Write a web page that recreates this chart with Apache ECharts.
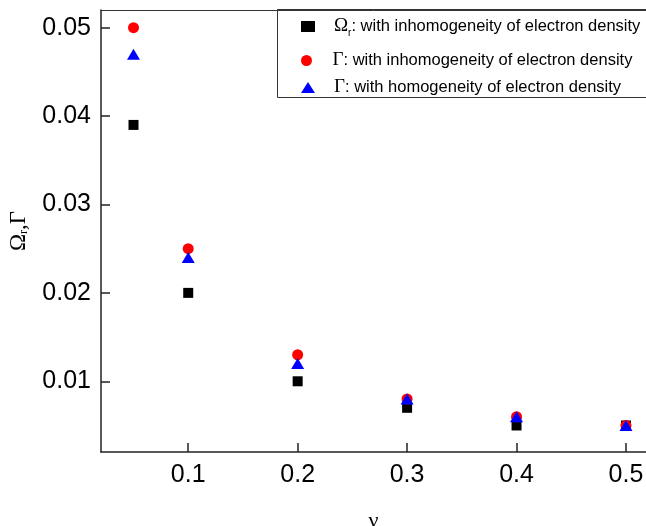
<!DOCTYPE html>
<html><head><meta charset="utf-8">
<script src="https://cdn.jsdelivr.net/npm/echarts@6/dist/echarts.min.js"></script>
<style>html,body{margin:0;padding:0;background:#fff}#c{width:646px;height:526px}</style>
</head><body><div id="c"></div>
<script>
const nu = [0.05, 0.1, 0.2, 0.3, 0.4, 0.5];
const omegaInhomo = [0.039, 0.020, 0.010, 0.007, 0.005, 0.005];
const gammaInhomo = [0.050, 0.025, 0.013, 0.008, 0.006, 0.005];
const gammaHomo = [0.047, 0.024, 0.012, 0.008, 0.006, 0.005];
const xTicks = [0.1, 0.2, 0.3, 0.4, 0.5];
const yTicks = [0.01, 0.02, 0.03, 0.04, 0.05];
const names = ['omega_in', 'gamma_in', 'gamma_ho'];
const legendText = {
  omega_in: '{sp| }{g|Ω}{s|r}{t|: with inhomogeneity of electron density}',
  gamma_in: '{sp| }{g|Γ}{t|: with inhomogeneity of electron density}',
  gamma_ho: '{sp| }{g|Γ}{t|: with homogeneity of electron density}'
};
const legendTops = [17, 51, 78];
const pairs = a => nu.map((x, i) => [x, a[i]]);

const legendRich = {
  sp: {width: 14, fontSize: 10},
  g: {fontFamily: 'Liberation Serif', fontSize: 19, color: '#000'},
  s: {fontFamily: 'Liberation Sans', fontSize: 10, color: '#000', padding: [14, 0, 0, 0]},
  t: {fontFamily: 'Liberation Sans', fontSize: 16.5, color: '#000'}
};

const chart = echarts.init(document.getElementById('c'), null, {renderer: 'canvas'});
chart.setOption({
  animation: false,
  grid: {left: 101, top: 10, right: 0, bottom: 74, outerBoundsMode: 'none', containLabel: false},
  graphic: [{
    type: 'rect', z: 100, silent: true,
    shape: {x: 277.5, y: 9.5, width: 420, height: 88},
    style: {fill: 'none', stroke: '#333', lineWidth: 1}
  }],
  xAxis: [{
    type: 'value', min: 0.0203, max: 0.5183,
    name: 'ν', nameLocation: 'middle', nameGap: 58,
    nameTextStyle: {fontFamily: 'Liberation Serif', fontSize: 22, color: '#000'},
    axisLine: {show: true, onZero: false, lineStyle: {color: '#222', width: 1.5}},
    axisTick: {show: true, inside: true, length: 9, customValues: xTicks, lineStyle: {color: '#222', width: 1.5}},
    axisLabel: {customValues: xTicks, margin: 11, fontFamily: 'Liberation Sans', fontSize: 25, color: '#000', formatter: v => v.toFixed(1)},
    splitLine: {show: false}
  }, {
    type: 'value', position: 'top', min: 0.0203, max: 0.5183,
    axisLine: {show: true, onZero: false, lineStyle: {color: '#333', width: 1}},
    axisTick: {show: false}, axisLabel: {show: false}, splitLine: {show: false}
  }],
  yAxis: {
    type: 'value', min: 0.002, max: 0.052,
    name: '{g|Ω}{s|r}{g|,Γ}', nameLocation: 'middle', nameGap: 71,
    nameTextStyle: {color: '#000', rich: {
      g: {fontFamily: 'Liberation Serif', fontSize: 23, color: '#000'},
      s: {fontFamily: 'Liberation Serif', fontSize: 12, color: '#000', padding: [10, 0, 0, 0]}
    }},
    axisLine: {show: true, onZero: false, lineStyle: {color: '#222', width: 1.5}},
    axisTick: {show: true, inside: true, length: 9, customValues: yTicks, lineStyle: {color: '#222', width: 1.5}},
    axisLabel: {customValues: yTicks, margin: 10, fontFamily: 'Liberation Sans', fontSize: 25, color: '#000', formatter: v => v.toFixed(2)},
    splitLine: {show: false}
  },
  legend: names.map((n, i) => ({
    orient: 'vertical', left: 277, top: legendTops[i],
    padding: [0, 30, 0, 24],
    itemWidth: 14, itemHeight: 11,
    data: [n],
    formatter: k => legendText[k],
    textStyle: {rich: legendRich}
  })),
  series: [
    {name: 'omega_in', type: 'scatter', symbol: 'rect', symbolSize: 10, itemStyle: {color: '#000', opacity: 1}, data: pairs(omegaInhomo), z: 2},
    {name: 'gamma_in', type: 'scatter', symbol: 'circle', symbolSize: 11, itemStyle: {color: '#ff0000', opacity: 1}, data: pairs(gammaInhomo), z: 3},
    {name: 'gamma_ho', type: 'scatter', symbol: 'triangle', symbolSize: [13, 11], itemStyle: {color: '#0000ff', opacity: 1}, data: pairs(gammaHomo), z: 4}
  ]
});
</script></body></html>
